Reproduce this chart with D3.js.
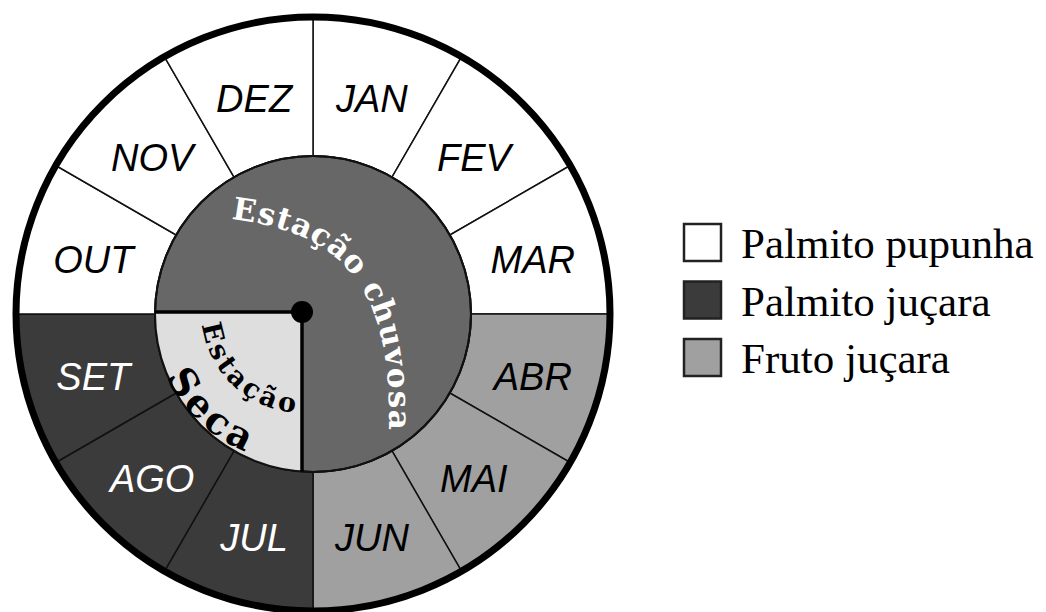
<!DOCTYPE html>
<html>
<head>
<meta charset="utf-8">
<script src="https://cdn.jsdelivr.net/npm/d3@7"></script>
<style>
	body { margin: 0; background: #fff; }
</style>
</head>
<body>
<svg id="chart" width="1046" height="612"></svg>
<script>
// Data
const months = ['JAN', 'FEV', 'MAR', 'ABR', 'MAI', 'JUN', 'JUL', 'AGO', 'SET', 'OUT', 'NOV', 'DEZ'];
const monthCrop = ['pupunha', 'pupunha', 'pupunha', 'fruto', 'fruto', 'fruto', 'jucara', 'jucara', 'jucara', 'pupunha', 'pupunha', 'pupunha'];
const cropKeys = ['pupunha', 'jucara', 'fruto'];
const cropLabels = ['Palmito pupunha', 'Palmito juçara', 'Fruto juçara'];
const cropColors = ['#ffffff', '#3b3b3b', '#a0a0a0'];
const cropTextColors = ['#000000', '#ffffff', '#000000'];
const rainyLabel = 'Estação chuvosa';
const dryLabels = ['Estação', 'Seca'];

// Layout
var attrs = {
	cx: 313,
	cy: 314,
	outerRadius: 297,
	innerRadius: 158,
	hubDx: -11,
	hubDy: -2,
	rainyFill: '#676767',
	dryFill: '#dedede',
	monthFont: 'Liberation Sans, Arial, sans-serif',
	seasonFont: 'DejaVu Serif, serif',
	legendFont: 'Liberation Serif, Times New Roman, serif'
};

var svg = d3.select('#chart');
var g = svg.append('g').attr('transform', `translate(${attrs.cx},${attrs.cy})`);

var color = d3.scaleOrdinal().domain(cropKeys).range(cropColors);
var textColor = d3.scaleOrdinal().domain(cropKeys).range(cropTextColors);

var pie = d3.pie().value(1).sort(null);
var arcs = pie(months.map((m, i) => ({ month: m, crop: monthCrop[i] })));

var arc = d3.arc()
	.innerRadius(attrs.innerRadius)
	.outerRadius(attrs.outerRadius);

// Month ring
g.selectAll('.month')
	.data(arcs)
	.enter().append('path')
	.attr('class', 'month')
	.attr('d', arc)
	.attr('fill', d => color(d.data.crop))
	.attr('stroke', '#111')
	.attr('stroke-width', 1.5);

// Inner disc (rainy season)
g.append('circle')
	.attr('r', attrs.innerRadius)
	.attr('fill', attrs.rainyFill)
	.attr('stroke', '#111')
	.attr('stroke-width', 2);

// Dry season wedge: from hub left and down to the disc edge
var hx = attrs.hubDx, hy = attrs.hubDy, r = attrs.innerRadius;
var leftX = -Math.sqrt(r * r - hy * hy);
var downY = Math.sqrt(r * r - hx * hx);
var wedge = d3.path();
wedge.moveTo(hx, hy);
wedge.lineTo(leftX, hy);
wedge.arc(0, 0, r, Math.atan2(hy, leftX), Math.atan2(downY, hx), true);
wedge.closePath();

g.append('path')
	.attr('d', wedge.toString())
	.attr('fill', attrs.dryFill);

g.append('circle')
	.attr('r', attrs.innerRadius)
	.attr('fill', 'none')
	.attr('stroke', '#111')
	.attr('stroke-width', 2);

g.append('path')
	.attr('d', `M${leftX},${hy}L${hx},${hy}L${hx},${downY}`)
	.attr('fill', 'none')
	.attr('stroke', '#000')
	.attr('stroke-width', 3.5);

g.append('circle')
	.attr('cx', hx)
	.attr('cy', hy)
	.attr('r', 11)
	.attr('fill', '#000');

// Outer rim
g.append('circle')
	.attr('r', attrs.outerRadius)
	.attr('fill', 'none')
	.attr('stroke', '#000')
	.attr('stroke-width', 7);

// Month labels
g.selectAll('.month-label')
	.data(arcs)
	.enter().append('text')
	.attr('class', 'month-label')
	.attr('transform', d => `translate(${arc.centroid(d)})`)
	.attr('text-anchor', 'middle')
	.attr('dy', '0.46em')
	.attr('font-family', attrs.monthFont)
	.attr('font-style', 'italic')
	.attr('font-size', 38)
	.attr('fill', d => textColor(d.data.crop))
	.text(d => d.data.month);

// Helper: measure text
function measure(str, size, weight) {
	var t = svg.append('text')
		.attr('font-family', attrs.seasonFont)
		.attr('font-size', size)
		.attr('font-weight', weight)
		.text(str);
	var w = t.node().getComputedTextLength();
	t.remove();
	return w;
}

// Rainy season label on a curve
var defs = svg.append('defs');
var rainyPath = d3.path();
rainyPath.moveTo(-80, -106);
rainyPath.bezierCurveTo(17, -94, 92, -52, 87, 116);

defs.append('path')
	.attr('id', 'rainy-path')
	.attr('d', rainyPath.toString())
	.attr('transform', `translate(${attrs.cx},${attrs.cy})`);

var rainySize = 31;
var rainyLen = d3.select('#rainy-path').node().getTotalLength();
var rainyW = measure(rainyLabel, rainySize, 'bold');
var rainySpacing = Math.max(0, (rainyLen - rainyW) / (rainyLabel.length - 1));

svg.append('text')
	.attr('font-family', attrs.seasonFont)
	.attr('font-size', rainySize)
	.attr('font-weight', 'bold')
	.attr('fill', '#fff')
	.attr('letter-spacing', rainySpacing)
	.attr('dy', '0.36em')
	.append('textPath')
	.attr('href', '#rainy-path')
	.text(rainyLabel);

// Dry season labels on arcs around the hub
var drySpecs = [
	{ text: dryLabels[0], radius: 91, size: 27, weight: 'bold', spacing: 1.5 },
	{ text: dryLabels[1], radius: 137, size: 38, weight: 'bold', spacing: 1.5 }
];

drySpecs.forEach(function (d, i) {
	var mid = 133 * Math.PI / 180, half = 75 * Math.PI / 180;
	var a0 = mid + half, a1 = mid - half;
	var p = d3.path();
	p.moveTo(d.radius * Math.cos(a0), d.radius * Math.sin(a0));
	p.arc(0, 0, d.radius, a0, a1, true);

	defs.append('path')
		.attr('id', 'dry-path-' + i)
		.attr('d', p.toString())
		.attr('transform', `translate(${attrs.cx + hx},${attrs.cy + hy})`);

	svg.append('text')
		.attr('font-family', attrs.seasonFont)
		.attr('font-size', d.size)
		.attr('font-weight', d.weight)
		.attr('fill', '#000')
		.attr('letter-spacing', d.spacing)
		.attr('dy', '0.36em')
		.append('textPath')
		.attr('href', '#dry-path-' + i)
		.attr('startOffset', '50%')
		.attr('text-anchor', 'middle')
		.text(d.text);
});

// Legend
var legend = svg.append('g').attr('transform', 'translate(684,224)');
var item = legend.selectAll('.legend-item')
	.data(cropKeys)
	.enter().append('g')
	.attr('class', 'legend-item')
	.attr('transform', (d, i) => `translate(0,${i * 57.5})`);

item.append('rect')
	.attr('width', 37)
	.attr('height', 37)
	.attr('fill', d => color(d))
	.attr('stroke', '#222')
	.attr('stroke-width', 2.5);

item.append('text')
	.attr('x', 57)
	.attr('y', 34)
	.attr('font-family', attrs.legendFont)
	.attr('font-size', 43)
	.attr('fill', '#000')
	.text((d, i) => cropLabels[i]);
</script>
</body>
</html>
